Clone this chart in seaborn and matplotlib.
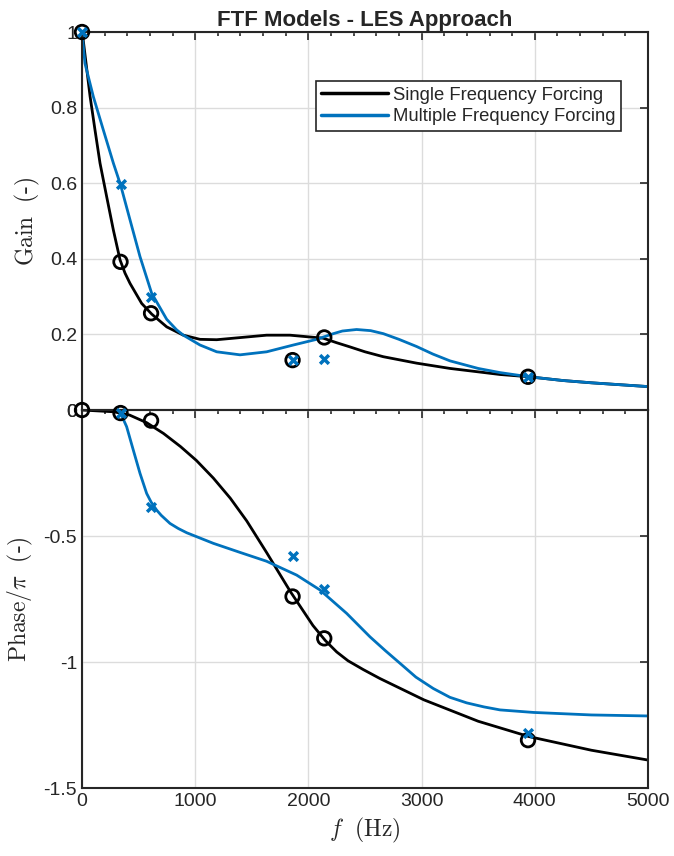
import numpy as np
import matplotlib
matplotlib.use("Agg")
import matplotlib.pyplot as plt
import seaborn as sns
from matplotlib.ticker import MultipleLocator, FormatStrFormatter

# Measured points (frequency in Hz)
freq_single = [0, 340, 610, 1860, 2140, 3940]
gain_single = [1.0, 0.392, 0.256, 0.132, 0.192, 0.088]
phase_single = [0.0, -0.012, -0.042, -0.74, -0.906, -1.31]

freq_multi = [0, 340, 610, 1860, 2140, 3940]
gain_multi = [1.0, 0.598, 0.30, 0.132, 0.134, 0.088]
freq_multi_ph = [340, 610, 1860, 2140, 3940]
phase_multi = [-0.01, -0.386, -0.579, -0.711, -1.283]

# Fitted model curves
fit_f_gain_single = [0, 10, 71, 115, 159, 218, 277, 336, 380, 424, 527, 615, 748, 895,
                     1042, 1190, 1337, 1631, 1837, 2131, 2250, 2367, 2500, 2662, 2956,
                     3251, 3500, 3693, 3946, 4250, 4500, 4750, 5000]
fit_gain_single = [1.0, 0.98, 0.83, 0.74, 0.653, 0.564, 0.476, 0.397, 0.362, 0.335,
                   0.282, 0.254, 0.22, 0.198, 0.187, 0.186, 0.19, 0.198, 0.198, 0.19,
                   0.178, 0.167, 0.154, 0.141, 0.124, 0.110, 0.101, 0.094, 0.088,
                   0.078, 0.072, 0.067, 0.062]

fit_f_gain_multi = [0, 12, 26, 100, 188, 277, 341, 424, 512, 615, 748, 836, 895, 1042,
                    1190, 1396, 1631, 1867, 2073, 2220, 2300, 2426, 2550, 2662, 2800,
                    2956, 3100, 3251, 3500, 3693, 3946, 4250, 4500, 5000]
fit_gain_multi = [1.0, 0.96, 0.917, 0.829, 0.741, 0.653, 0.595, 0.503, 0.406, 0.309,
                  0.24, 0.212, 0.198, 0.172, 0.154, 0.146, 0.154, 0.172, 0.187, 0.202,
                  0.209, 0.213, 0.21, 0.202, 0.187, 0.168, 0.148, 0.13, 0.11, 0.099,
                  0.088, 0.078, 0.072, 0.062]

fit_f_phase_single = [0, 280, 420, 570, 720, 870, 1010, 1160, 1310, 1455, 1630, 1840,
                      2040, 2150, 2250, 2350, 2485, 2630, 3020, 3500, 3950, 4500, 5000]
fit_phase_single = [0.0, -0.007, -0.02, -0.05, -0.093, -0.145, -0.2, -0.27, -0.35,
                    -0.44, -0.565, -0.72, -0.855, -0.915, -0.96, -0.995, -1.03, -1.065,
                    -1.15, -1.235, -1.296, -1.35, -1.389]

fit_f_phase_multi = [340, 394, 453, 512, 571, 610, 659, 700, 777, 850, 925, 1160, 1396,
                     1630, 1896, 2102, 2338, 2544, 2680, 2809, 2950, 3103, 3250, 3398,
                     3550, 3693, 3988, 4500, 5000]
fit_phase_multi = [-0.012, -0.066, -0.159, -0.251, -0.331, -0.365, -0.397, -0.418,
                   -0.45, -0.47, -0.487, -0.529, -0.565, -0.6, -0.655, -0.714, -0.807,
                   -0.9, -0.955, -1.005, -1.06, -1.105, -1.14, -1.162, -1.178, -1.19,
                   -1.20, -1.21, -1.214]

black = "#000000"
blue = "#0072BD"

sns.set_theme(style="white")
plt.rcParams['font.family'] = ['Liberation Sans', 'DejaVu Sans']
plt.rcParams['mathtext.fontset'] = 'cm'
plt.rcParams['axes.unicode_minus'] = False

fig = plt.figure(figsize=(6.74, 8.56), dpi=100)
ax1 = fig.add_axes([0.1217, 0.5210, 0.8397, 0.4416])
ax2 = fig.add_axes([0.1217, 0.0794, 0.8397, 0.4416])

# Gain panel
sns.lineplot(x=fit_f_gain_single, y=fit_gain_single, color=black, lw=2, sort=False,
             ax=ax1, label="Single Frequency Forcing")
sns.lineplot(x=fit_f_gain_multi, y=fit_gain_multi, color=blue, lw=2, sort=False,
             ax=ax1, label="Multiple Frequency Forcing")
sns.scatterplot(x=freq_single, y=gain_single, marker='o', s=95, facecolors='none',
                edgecolors=black, linewidth=2, ax=ax1, zorder=3, clip_on=False)
sns.scatterplot(x=freq_multi, y=gain_multi, marker='x', s=40, color=blue,
                linewidth=2.5, ax=ax1, zorder=4, clip_on=False)

# Phase panel
sns.lineplot(x=fit_f_phase_single, y=fit_phase_single, color=black, lw=2, sort=False, ax=ax2)
sns.lineplot(x=fit_f_phase_multi, y=fit_phase_multi, color=blue, lw=2, sort=False, ax=ax2)
sns.scatterplot(x=freq_single, y=phase_single, marker='o', s=95, facecolors='none',
                edgecolors=black, linewidth=2, ax=ax2, zorder=3, clip_on=False)
sns.scatterplot(x=freq_multi_ph, y=phase_multi, marker='x', s=40, color=blue,
                linewidth=2.5, ax=ax2, zorder=4, clip_on=False)

for ax in (ax1, ax2):
    ax.set_xlim(0, 5000)
    ax.xaxis.set_major_locator(MultipleLocator(1000))
    ax.xaxis.set_minor_locator(MultipleLocator(200))
    ax.grid(True, which='major', color='#dcdcdc', lw=1)
    ax.tick_params(which='both', direction='in', top=True, right=True,
                   labelsize=14, colors='#262626', width=1.2)
    ax.tick_params(which='major', length=6)
    ax.tick_params(which='minor', length=3, left=False, right=False)
    for sp in ax.spines.values():
        sp.set_color('#262626')
        sp.set_linewidth(1.5)
    ax.set_axisbelow(True)

ax1.set_ylim(0, 1)
ax1.yaxis.set_major_locator(MultipleLocator(0.2))
ax1.yaxis.set_major_formatter(FormatStrFormatter('%g'))
ax1.tick_params(labelbottom=False)
ax1.set_xlabel('')
ax1.set_ylabel(r'$\mathrm{Gain}\ \ (\text{-})$', fontsize=17, labelpad=6)
ax1.set_title('FTF Models - LES Approach', fontsize=16, fontweight='bold', pad=4)

ax2.set_ylim(-1.5, 0)
ax2.yaxis.set_major_locator(MultipleLocator(0.5))
ax2.yaxis.set_major_formatter(FormatStrFormatter('%g'))
ax2.set_ylabel(r'$\mathrm{Phase}/\pi\ \ (\text{-})$', fontsize=17, labelpad=6)
ax2.set_xlabel(r'$f\ \ (\mathrm{Hz})$', fontsize=17, labelpad=4)

leg = ax1.legend(loc='upper left', bbox_to_anchor=(0.413, 0.870), fontsize=13.3,
                 frameon=True, fancybox=False, edgecolor='#262626', framealpha=1,
                 handlelength=3.6, handletextpad=0.3, borderpad=0.3, labelspacing=0.25,
                 borderaxespad=0)
leg.get_frame().set_linewidth(1.2)
for line in leg.get_lines():
    line.set_linewidth(2.5)

fig.savefig('out.png', dpi=100)
